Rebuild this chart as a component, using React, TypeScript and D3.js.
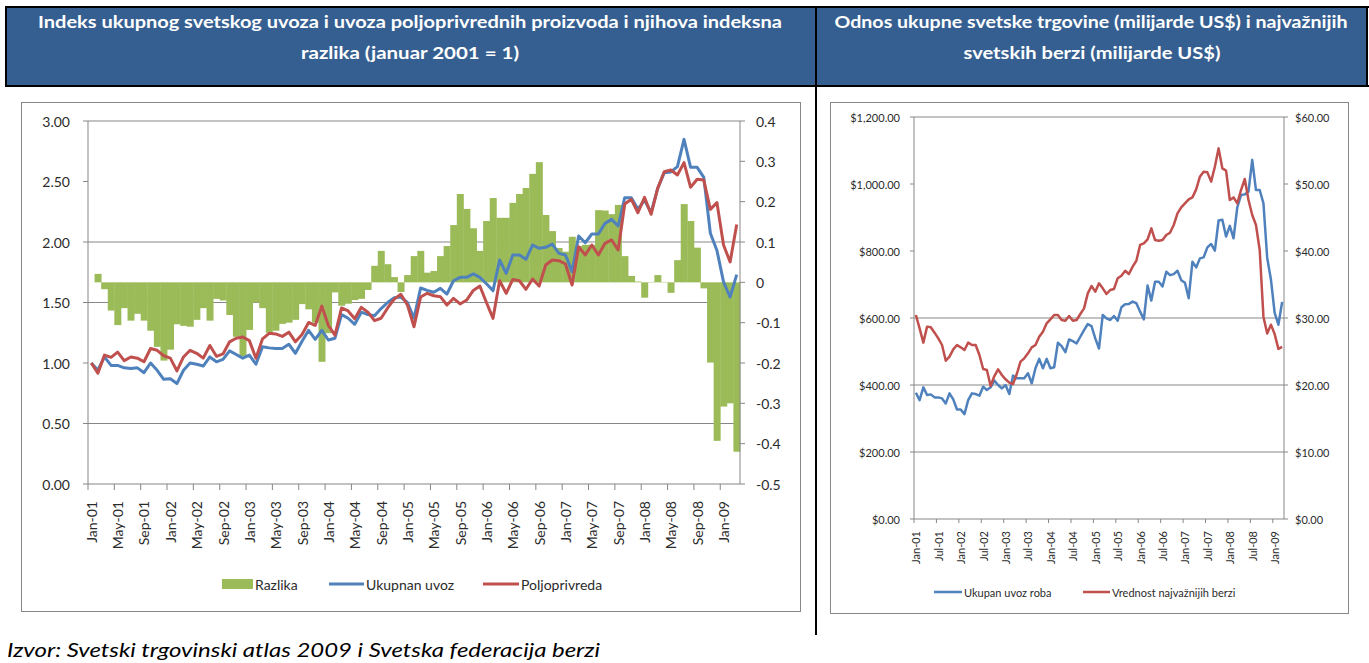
import React from 'react';
import * as d3 from 'd3';

// months Jan-01 .. Mar-09 (99 categories, shared by both charts)
const months: Date[] = d3.timeMonths(new Date(2001, 0, 1), new Date(2009, 3, 1));
const monthLabel = d3.timeFormat('%b-%y');

// left chart: index difference (right axis)
const razlika = [
  0, 0.021, -0.017, -0.07, -0.106, -0.064, -0.095, -0.078, -0.095, -0.12,
  -0.16, -0.194, -0.167, -0.104, -0.108, -0.11, -0.093, -0.064, -0.095, -0.041,
  -0.045, -0.081, -0.135, -0.183, -0.118, -0.05, -0.064, -0.125, -0.12, -0.103,
  -0.1, -0.093, -0.054, -0.067, -0.1, -0.197, -0.126, -0.025, -0.058, -0.053,
  -0.044, -0.041, -0.019, 0.041, 0.078, 0.045, 0.013, -0.024, 0.018, 0.065,
  0.078, 0.024, 0.028, 0.065, 0.09, 0.142, 0.219, 0.182, 0.134, 0.078,
  0.152, 0.209, 0.16, 0.16, 0.197, 0.219, 0.234, 0.269, 0.298, 0.167,
  0.127, 0.085, 0.076, 0.113, 0.09, 0.093, 0.093, 0.179, 0.178, 0.169,
  0.192, 0.065, 0.016, 0.002, -0.038, 0.001, 0.018, 0.001, -0.026, 0.055,
  0.194, 0.152, 0.086, -0.015, -0.199, -0.393, -0.308, -0.3, -0.42,
];

// left chart: total import index (left axis)
const ukupnanUvoz = [
  1.0, 0.94, 1.05, 0.98, 0.98, 0.96, 0.955, 0.96, 0.92, 1.0,
  0.94, 0.865, 0.87, 0.83, 0.94, 1.0, 0.99, 0.975, 1.05, 1.01,
  1.03, 1.1, 1.07, 1.04, 1.065, 0.99, 1.135, 1.125, 1.12, 1.12,
  1.155, 1.08, 1.18, 1.27, 1.195, 1.27, 1.19, 1.205, 1.4, 1.37,
  1.32, 1.42, 1.4, 1.39, 1.45, 1.5, 1.54, 1.545, 1.5, 1.37,
  1.62, 1.6, 1.585, 1.617, 1.57, 1.68, 1.708, 1.708, 1.736, 1.708,
  1.655, 1.598, 1.851, 1.741, 1.893, 1.893, 1.857, 1.975, 1.948, 1.956,
  1.983, 1.906, 1.893, 1.755, 2.05, 1.994, 2.066, 2.066, 2.154, 2.187,
  2.132, 2.366, 2.366, 2.27, 2.347, 2.242, 2.443, 2.573, 2.579, 2.623,
  2.848, 2.617, 2.617, 2.534, 2.072, 1.93, 1.67, 1.545, 1.73,
];

// left chart: agricultural import index (left axis)
const poljoprivreda = [
  1.0, 0.915, 1.065, 1.047, 1.09, 1.02, 1.05, 1.04, 1.01, 1.12,
  1.105, 1.06, 1.04, 0.935, 1.05, 1.105, 1.08, 1.04, 1.145, 1.055,
  1.075, 1.175, 1.205, 1.215, 1.185, 1.04, 1.2, 1.245, 1.24, 1.22,
  1.255, 1.175, 1.235, 1.335, 1.31, 1.47, 1.31, 1.23, 1.455, 1.43,
  1.365, 1.46, 1.42, 1.35, 1.37, 1.455, 1.528, 1.568, 1.48, 1.3,
  1.545, 1.576, 1.556, 1.548, 1.479, 1.534, 1.488, 1.52, 1.6, 1.636,
  1.5, 1.369, 1.68, 1.576, 1.691, 1.68, 1.609, 1.694, 1.636, 1.81,
  1.851, 1.846, 1.818, 1.645, 1.961, 1.893, 1.975, 1.893, 1.989, 2.017,
  1.934, 2.314, 2.353, 2.242, 2.369, 2.229, 2.443, 2.581, 2.595, 2.554,
  2.656, 2.452, 2.518, 2.512, 2.27, 2.325, 1.975, 1.835, 2.145,
];

// right chart: world goods imports (left axis, bn US$)
const ukupanUvozRoba = [
  377, 355, 393, 370, 372, 363, 363, 360, 345, 375,
  357, 327, 327, 313, 355, 375, 373, 368, 395, 385,
  393, 413, 400, 390, 400, 373, 428, 420, 420, 420,
  435, 405, 450, 478, 450, 478, 450, 453, 526, 516,
  498, 536, 531, 524, 544, 564, 582, 576, 539, 509,
  609, 599, 594, 606, 592, 632, 641, 642, 649, 644,
  619, 596, 697, 652, 708, 708, 694, 738, 728, 731,
  741, 713, 705, 659, 768, 751, 778, 781, 811, 821,
  801, 891, 893, 843, 875, 838, 930, 967, 969, 977,
  1072, 982, 982, 942, 780, 715, 615, 580, 648,
];

// right chart: value of the main stock exchanges (right axis)
const vrednostBerzi = [
  30.45, 28.46, 26.32, 28.71, 28.61, 27.81, 26.96, 25.97, 23.63, 24.23,
  25.32, 25.97, 25.62, 25.22, 26.32, 25.97, 25.97, 24.48, 22.39, 22.24,
  19.85, 21.34, 22.34, 21.49, 20.85, 20.35, 20.15, 21.64, 23.48, 23.98,
  24.73, 25.62, 25.97, 27.21, 27.96, 29.2, 29.8, 30.45, 30.45, 29.7,
  29.6, 30.3, 29.6, 29.7, 30.6, 31.44, 33.68, 34.78, 33.93, 35.17,
  34.43, 33.58, 34.18, 34.33, 35.92, 36.32, 37.06, 36.57, 37.66, 38.55,
  40.9, 41.14, 41.74, 43.38, 41.64, 41.54, 41.64, 42.39, 42.73, 43.88,
  45.62, 46.52, 47.11, 47.71, 48.0, 49.2, 51.09, 51.84, 51.74, 50.35,
  52.58, 55.32, 52.34, 51.99, 47.61, 48.0, 47.11, 49.1, 50.75, 47.61,
  45.37, 43.88, 40.15, 30.2, 27.7, 29.0, 27.6, 25.4, 25.7,
];

const indexTicks = [0, 0.5, 1, 1.5, 2, 2.5, 3];
const diffTicks = [-0.5, -0.4, -0.3, -0.2, -0.1, 0, 0.1, 0.2, 0.3, 0.4];
const indexGrid = [3, 2, 1.5, 0.5];
const usdTicks = [0, 200, 400, 600, 800, 1000, 1200];
const berzeTicks = [0, 10, 20, 30, 40, 50, 60];
const usdGrid = [1200, 600, 400, 200];

const GREEN = '#9BBB59';
const BLUE = '#4F81BD';
const RED = '#C0504D';
const GRID = '#878787';
const TXT = '#2b2b2b';
const FONT = 'Lato, "Open Sans", sans-serif';

const fmt2 = d3.format('.2f');
const fmtUsd = d3.format('$,.2f');
const fmtDiff = (v: number) => (v === 0 ? '0' : String(+v.toFixed(1)));

function IndexChart() {
  const x = d3.scaleBand<number>().domain(d3.range(months.length)).range([88, 740]).padding(0);
  const yL = d3.scaleLinear().domain([0, 3]).range([484, 121]);
  const yR = d3.scaleLinear().domain([-0.5, 0.4]).range([484, 121]);
  const cx = (i: number) => (x(i) as number) + x.bandwidth() / 2;
  const line = d3.line<number>().x((d, i) => cx(i)).y(d => yL(d));

  return (
    <g fontFamily={FONT}>
      <rect x={21.5} y={102.5} width={779} height={509} fill="#fff" stroke={GRID} />
      {indexGrid.map(v => (
        <line key={v} x1={88} x2={740} y1={yL(v)} y2={yL(v)} stroke={GRID} />
      ))}
      {razlika.map((v, i) => (
        <rect key={i} x={x(i)} width={x.bandwidth() + 0.4}
          y={Math.min(yR(v), yR(0))} height={Math.abs(yR(v) - yR(0))} fill={GREEN} />
      ))}
      {/* axes */}
      <line x1={88} x2={88} y1={121} y2={484} stroke={GRID} />
      <line x1={740} x2={740} y1={121} y2={484} stroke={GRID} />
      <line x1={88} x2={740} y1={484} y2={484} stroke={GRID} />
      {indexTicks.map(v => (
        <g key={v}>
          <line x1={83} x2={88} y1={yL(v)} y2={yL(v)} stroke={GRID} />
          <text x={70} y={yL(v)} textAnchor="end" dominantBaseline="central" fontSize={14} fill={TXT}>{fmt2(v)}</text>
        </g>
      ))}
      {diffTicks.map(v => (
        <g key={v}>
          <line x1={740} x2={745} y1={yR(v)} y2={yR(v)} stroke={GRID} />
          <text x={756} y={yR(v)} dominantBaseline="central" fontSize={14} fill={TXT}>{fmtDiff(v)}</text>
        </g>
      ))}
      {months.map((m, i) => i % 4 === 0 ? (
        <g key={i}>
          <line x1={x(i)} x2={x(i)} y1={484} y2={490} stroke={GRID} />
          <text transform={`translate(${cx(i)},501) rotate(-90)`} textAnchor="end"
            dominantBaseline="central" fontSize={14} fill={TXT}>{monthLabel(m)}</text>
        </g>
      ) : null)}
      <path d={line(ukupnanUvoz) || ''} fill="none" stroke={BLUE} strokeWidth={3} strokeLinejoin="round" />
      <path d={line(poljoprivreda) || ''} fill="none" stroke={RED} strokeWidth={3} strokeLinejoin="round" />
      {/* legend */}
      <rect x={222} y={579} width={31} height={10} fill={GREEN} />
      <text x={255} y={584} dominantBaseline="central" fontSize={14} fill={TXT}>Razlika</text>
      <line x1={329} x2={364} y1={584} y2={584} stroke={BLUE} strokeWidth={3} />
      <text x={366} y={584} dominantBaseline="central" fontSize={14} fill={TXT}>Ukupnan uvoz</text>
      <line x1={483} x2={519} y1={584} y2={584} stroke={RED} strokeWidth={3} />
      <text x={521} y={584} dominantBaseline="central" fontSize={14} fill={TXT}>Poljoprivreda</text>
    </g>
  );
}

function TradeChart() {
  const x = d3.scaleBand<number>().domain(d3.range(months.length)).range([914, 1284]).padding(0);
  const yL = d3.scaleLinear().domain([0, 1200]).range([519, 117]);
  const yR = d3.scaleLinear().domain([0, 60]).range([519, 117]);
  const cx = (i: number) => (x(i) as number) + x.bandwidth() / 2;
  const lineL = d3.line<number>().x((d, i) => cx(i)).y(d => yL(d));
  const lineR = d3.line<number>().x((d, i) => cx(i)).y(d => yR(d));

  return (
    <g fontFamily={FONT}>
      <rect x={830.5} y={102.5} width={518} height={511} fill="#fff" stroke={GRID} />
      {usdGrid.map(v => (
        <line key={v} x1={914} x2={1284} y1={yL(v)} y2={yL(v)} stroke={GRID} />
      ))}
      <line x1={914} x2={914} y1={117} y2={519} stroke={GRID} />
      <line x1={1284} x2={1284} y1={117} y2={519} stroke={GRID} />
      <line x1={914} x2={1284} y1={519} y2={519} stroke={GRID} />
      {usdTicks.map(v => (
        <g key={v}>
          <line x1={910} x2={914} y1={yL(v)} y2={yL(v)} stroke={GRID} />
          <text x={900} y={yL(v)} textAnchor="end" dominantBaseline="central" fontSize={11} fill={TXT}>{fmtUsd(v)}</text>
        </g>
      ))}
      {berzeTicks.map(v => (
        <g key={v}>
          <line x1={1284} x2={1288} y1={yR(v)} y2={yR(v)} stroke={GRID} />
          <text x={1295} y={yR(v)} dominantBaseline="central" fontSize={11} fill={TXT}>{fmtUsd(v)}</text>
        </g>
      ))}
      {months.map((m, i) => i % 6 === 0 ? (
        <g key={i}>
          <line x1={x(i)} x2={x(i)} y1={519} y2={523} stroke={GRID} />
          <text transform={`translate(${cx(i)},531) rotate(-90)`} textAnchor="end"
            dominantBaseline="central" fontSize={11} fill={TXT}>{monthLabel(m)}</text>
        </g>
      ) : null)}
      <path d={lineL(ukupanUvozRoba) || ''} fill="none" stroke={BLUE} strokeWidth={2.5} strokeLinejoin="round" />
      <path d={lineR(vrednostBerzi) || ''} fill="none" stroke={RED} strokeWidth={2.5} strokeLinejoin="round" />
      <line x1={934} x2={962} y1={592} y2={592} stroke={BLUE} strokeWidth={2.5} />
      <text x={964} y={592} dominantBaseline="central" fontSize={11} fill={TXT}>Ukupan uvoz roba</text>
      <line x1={1083} x2={1110} y1={592} y2={592} stroke={RED} strokeWidth={2.5} />
      <text x={1112} y={592} dominantBaseline="central" fontSize={11} fill={TXT}>Vrednost najvažnijih berzi</text>
    </g>
  );
}

export default function App() {
  return (
    <svg width={1369} height={663} viewBox="0 0 1369 663"
      style={{ position: 'absolute', left: 0, top: 0, background: '#fff' }}>
      {/* header row */}
      <rect x={6} y={7} width={1361} height={79} fill="#365F91" />
      <line x1={5} x2={1369} y1={7} y2={7} stroke="#000" strokeWidth={2} />
      <line x1={5} x2={1369} y1={86} y2={86} stroke="#000" strokeWidth={2} />
      <line x1={6} x2={6} y1={6} y2={87} stroke="#000" strokeWidth={2} />
      <line x1={1367} x2={1367} y1={6} y2={87} stroke="#000" strokeWidth={2} />
      <line x1={816} x2={816} y1={6} y2={635} stroke="#000" strokeWidth={2} />
      <g fontFamily={FONT} fontWeight="bold" fontSize={17.5} fill="#fff" textAnchor="middle">
        <text x={410} y={28} textLength={744} lengthAdjust="spacingAndGlyphs">Indeks ukupnog svetskog uvoza i uvoza poljoprivrednih proizvoda i njihova indeksna</text>
        <text x={410} y={59} textLength={218} lengthAdjust="spacingAndGlyphs">razlika (januar 2001 = 1)</text>
        <text x={1091} y={28} textLength={513} lengthAdjust="spacingAndGlyphs">Odnos ukupne svetske trgovine (milijarde US$) i najvažnijih</text>
        <text x={1092} y={59} textLength={257} lengthAdjust="spacingAndGlyphs">svetskih berzi (milijarde US$)</text>
      </g>
      <IndexChart />
      <TradeChart />
      <text x={7} y={657} fontFamily={FONT} fontStyle="italic" fontSize={20} fill="#000"
        textLength={593} lengthAdjust="spacingAndGlyphs">Izvor: Svetski trgovinski atlas 2009 i Svetska federacija berzi</text>
    </svg>
  );
}
